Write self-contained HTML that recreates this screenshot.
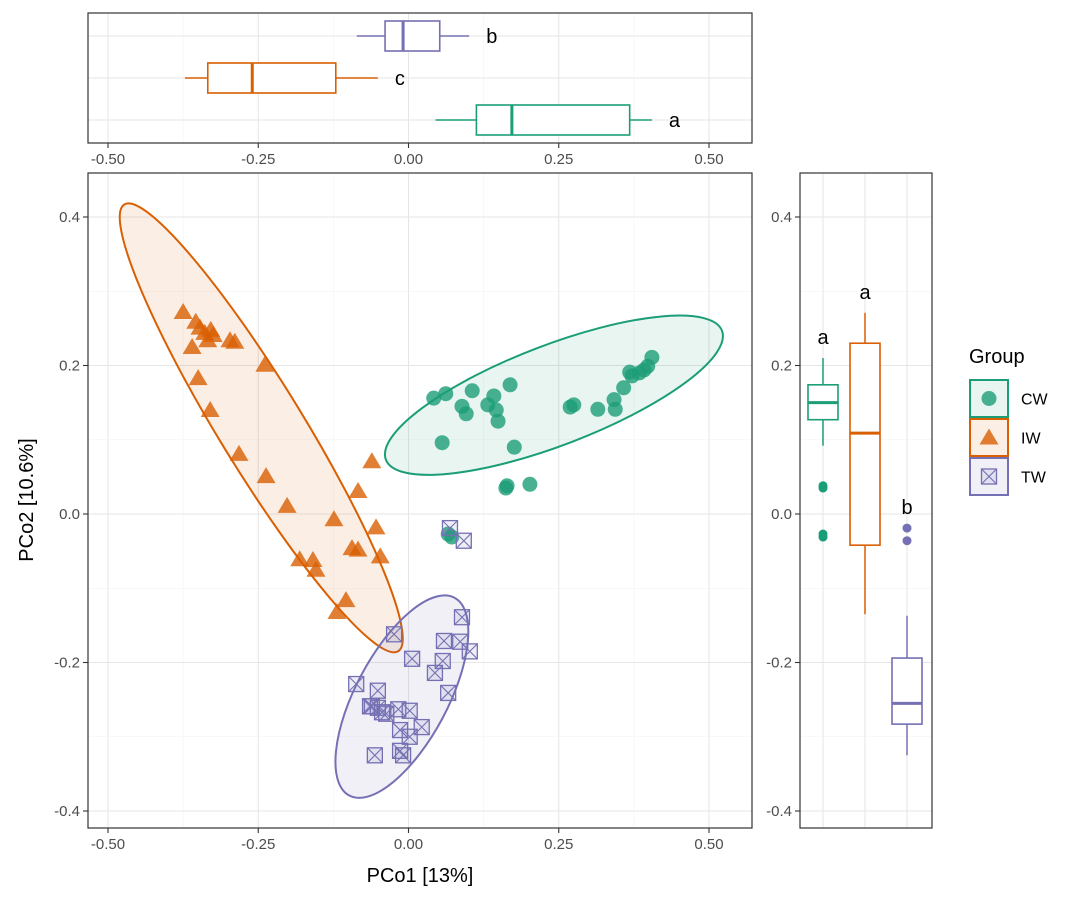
<!DOCTYPE html>
<html><head><meta charset="utf-8"><style>
body{margin:0;background:#fff;}
svg{display:block;font-family:"Liberation Sans",sans-serif;}
</style></head><body>
<svg id="chart" width="1080" height="900"></svg>
<script>
const groups=["CW","IW","TW"];
const colors=["#1b9e77","#d95f02","#7570b3"];
const cwX=[0.042,0.062,0.056,0.089,0.096,0.106,0.132,0.142,0.146,0.149,0.169,0.176,0.164,0.162,0.202,0.269,0.275,0.315,0.342,0.344,0.358,0.372,0.368,0.384,0.392,0.398,0.405,0.066,0.072];
const cwY=[0.156,0.162,0.096,0.145,0.135,0.166,0.147,0.159,0.140,0.125,0.174,0.090,0.038,0.035,0.040,0.144,0.147,0.141,0.154,0.141,0.170,0.186,0.191,0.190,0.194,0.199,0.211,-0.027,-0.031];
const iwX=[-0.375,-0.354,-0.360,-0.347,-0.339,-0.329,-0.334,-0.325,-0.350,-0.330,-0.297,-0.289,-0.239,-0.282,-0.237,-0.202,-0.181,-0.159,-0.154,-0.124,-0.084,-0.061,-0.054,-0.047,-0.094,-0.084,-0.104,-0.119];
const iwY=[0.272,0.259,0.225,0.251,0.244,0.248,0.234,0.241,0.183,0.140,0.234,0.232,0.201,0.081,0.051,0.011,-0.061,-0.062,-0.075,-0.007,0.031,0.071,-0.018,-0.057,-0.046,-0.048,-0.116,-0.132];
const twX=[0.069,0.092,-0.024,0.006,0.059,0.089,0.086,0.102,0.057,0.044,0.066,-0.087,-0.051,-0.051,-0.061,-0.044,-0.017,0.002,-0.014,-0.037,0.022,0.002,-0.056,-0.014,-0.009,-0.064];
const twY=[-0.019,-0.036,-0.162,-0.195,-0.171,-0.139,-0.172,-0.185,-0.198,-0.214,-0.241,-0.229,-0.238,-0.261,-0.259,-0.267,-0.263,-0.265,-0.291,-0.269,-0.287,-0.300,-0.325,-0.319,-0.325,-0.259];
// boxplot stats: [whiskerLow, q1, median, q3, whiskerHigh]
const boxX=[[0.045,0.113,0.172,0.368,0.405],[-0.372,-0.334,-0.260,-0.121,-0.051],[-0.086,-0.039,-0.009,0.052,0.101]];
const boxY=[[0.092,0.127,0.150,0.174,0.210],[-0.135,-0.042,0.109,0.230,0.271],[-0.325,-0.283,-0.255,-0.194,-0.137]];
const outY=[[0.038,0.035,-0.027,-0.031],[],[-0.019,-0.036]];
const lettersX=["a","c","b"];
const lettersY=["a","a","b"];
const xTicks=[-0.5,-0.25,0,0.25,0.5];
const xTickLabels=["-0.50","-0.25","0.00","0.25","0.50"];
const yTicks=[-0.4,-0.2,0,0.2,0.4];
const yTickLabels=["-0.4","-0.2","0.0","0.2","0.4"];

const X=v=>408.5+v*601;
const Y=v=>514-v*742.5;
const svg=document.getElementById('chart');
const NS="http://www.w3.org/2000/svg";
function mk(t,a,p){const e=document.createElementNS(NS,t);for(const k in a)e.setAttribute(k,a[k]);(p||svg).appendChild(e);return e;}

function gridX(y0,y1){[-0.375,-0.125,0.125,0.375].forEach(v=>mk('line',{x1:X(v),x2:X(v),y1:y0,y2:y1,stroke:'#f2f2f2','stroke-width':0.6}));xTicks.forEach(v=>mk('line',{x1:X(v),x2:X(v),y1:y0,y2:y1,stroke:'#e6e6e6','stroke-width':1.1}));}
function gridY(x0,x1){[-0.3,-0.1,0.1,0.3].forEach(v=>mk('line',{x1:x0,x2:x1,y1:Y(v),y2:Y(v),stroke:'#f2f2f2','stroke-width':0.6}));yTicks.forEach(v=>mk('line',{x1:x0,x2:x1,y1:Y(v),y2:Y(v),stroke:'#e6e6e6','stroke-width':1.1}));}
gridX(173,828);gridY(88,752);
gridX(13,143);[36,78,120].forEach(y=>mk('line',{x1:88,x2:752,y1:y,y2:y,stroke:'#e6e6e6','stroke-width':1.1}));
gridY(800,932);[823,865,907].forEach(x=>mk('line',{x1:x,x2:x,y1:173,y2:828,stroke:'#e6e6e6','stroke-width':1.1}));

const ell=[[0.242,0.160,180,50,-21],[-0.245,0.116,262,42,58.5],[-0.011,-0.246,112,46,118]];
ell.forEach((e,i)=>{const el=mk('ellipse',{cx:0,cy:0,rx:e[2],ry:e[3],transform:`translate(${X(e[0])},${Y(e[1])}) rotate(${e[4]})`,fill:colors[i],'fill-opacity':0.1,stroke:colors[i],'stroke-width':2});

});

function circ(x,y,c,p){mk('circle',{cx:x,cy:y,r:7.5,fill:c,'fill-opacity':0.8},p);}
function tri(x,y,c,p){mk('polygon',{points:`${x},${y-9} ${x-9.5},${y+7} ${x+9.5},${y+7}`,fill:c,'fill-opacity':0.8},p);}
function sq(x,y,c,p){mk('rect',{x:x-7.5,y:y-7.5,width:15,height:15,fill:c,'fill-opacity':0.12,stroke:c,'stroke-width':1.3},p);mk('path',{d:`M${x-7.5},${y-7.5}L${x+7.5},${y+7.5}M${x+7.5},${y-7.5}L${x-7.5},${y+7.5}`,stroke:c,'stroke-width':1.1},p);}
const gCW=mk('g',{});
cwX.forEach((v,i)=>circ(X(v),Y(cwY[i]),colors[0],gCW));
const gIW=mk('g',{});
iwX.forEach((v,i)=>tri(X(v),Y(iwY[i]),colors[1],gIW));
const gTW=mk('g',{});
twX.forEach((v,i)=>sq(X(v),Y(twY[i]),colors[2],gTW));

const rowY=[120,78,36];
boxX.forEach((b,i)=>{const y=rowY[i],c=colors[i];const g=mk('g',{});

mk('line',{x1:X(b[0]),x2:X(b[1]),y1:y,y2:y,stroke:c,'stroke-width':1.5},g);
mk('line',{x1:X(b[3]),x2:X(b[4]),y1:y,y2:y,stroke:c,'stroke-width':1.5},g);
mk('rect',{x:X(b[1]),y:y-15,width:X(b[3])-X(b[1]),height:30,fill:'#fff',stroke:c,'stroke-width':1.6},g);
mk('line',{x1:X(b[2]),x2:X(b[2]),y1:y-15,y2:y+15,stroke:c,'stroke-width':3},g);
const t=mk('text',{x:X(b[4])+17,y:y+7,'font-size':20,fill:'#000'},g);t.textContent=lettersX[i];});

const colX=[823,865,907];
boxY.forEach((b,i)=>{const x=colX[i],c=colors[i];const g=mk('g',{});

mk('line',{x1:x,x2:x,y1:Y(b[0]),y2:Y(b[1]),stroke:c,'stroke-width':1.5},g);
mk('line',{x1:x,x2:x,y1:Y(b[3]),y2:Y(b[4]),stroke:c,'stroke-width':1.5},g);
mk('rect',{x:x-15,y:Y(b[3]),width:30,height:Y(b[1])-Y(b[3]),fill:'#fff',stroke:c,'stroke-width':1.6},g);
mk('line',{x1:x-15,x2:x+15,y1:Y(b[2]),y2:Y(b[2]),stroke:c,'stroke-width':3},g);
outY[i].forEach(o=>mk('circle',{cx:x,cy:Y(o),r:4.5,fill:c},g));
const top=Math.max(b[4],...outY[i]);
const t=mk('text',{x:x,y:Y(top)-14,'font-size':20,'text-anchor':'middle',fill:'#000'},g);t.textContent=lettersY[i];});

[[88,173,664,655,'main-panel'],[88,13,664,130,'top-panel'],[800,173,132,655,'right-panel']].forEach(p=>{const r=mk('rect',{x:p[0],y:p[1],width:p[2],height:p[3],fill:'none',stroke:'#333','stroke-width':1.2});});

function xAxis(yb,name){const g=mk('g',{});
xTicks.forEach((v,i)=>{mk('line',{x1:X(v),x2:X(v),y1:yb,y2:yb+5,stroke:'#333','stroke-width':1.1},g);const t=mk('text',{x:X(v),y:yb+21,'font-size':15,'text-anchor':'middle',fill:'#4d4d4d'},g);t.textContent=xTickLabels[i];});}
xAxis(828,'x-axis-main');xAxis(143,'x-axis-top');
function yAxis(xl,name){const g=mk('g',{});
yTicks.forEach((v,i)=>{mk('line',{x1:xl-5,x2:xl,y1:Y(v),y2:Y(v),stroke:'#333','stroke-width':1.1},g);const t=mk('text',{x:xl-8,y:Y(v)+5,'font-size':15,'text-anchor':'end',fill:'#4d4d4d'},g);t.textContent=yTickLabels[i];});}
yAxis(88,'y-axis-main');yAxis(800,'y-axis-right');

const xt=mk('text',{x:420,y:882,'font-size':20,'text-anchor':'middle',fill:'#000'});xt.textContent='PCo1 [13%]';

const yt=mk('text',{x:0,y:0,'font-size':20,'text-anchor':'middle',fill:'#000',transform:'translate(33,500) rotate(-90)'});yt.textContent='PCo2 [10.6%]';


const lg=mk('g',{});
const lt=mk('text',{x:969,y:363,'font-size':20,fill:'#000'},lg);lt.textContent='Group';
groups.forEach((gname,i)=>{const y=380+i*39;const e=mk('g',{},lg);

mk('rect',{x:970,y:y,width:38,height:37,fill:colors[i],'fill-opacity':0.1,stroke:colors[i],'stroke-width':2},e);
const cx=989,cy=y+18.5;
if(i===0)circ(cx,cy,colors[0],e);else if(i===1)tri(cx,cy,colors[1],e);else sq(cx,cy,colors[2],e);
const t=mk('text',{x:1021,y:cy+6,'font-size':16,fill:'#000'},e);t.textContent=gname;});
</script>
</body></html>
